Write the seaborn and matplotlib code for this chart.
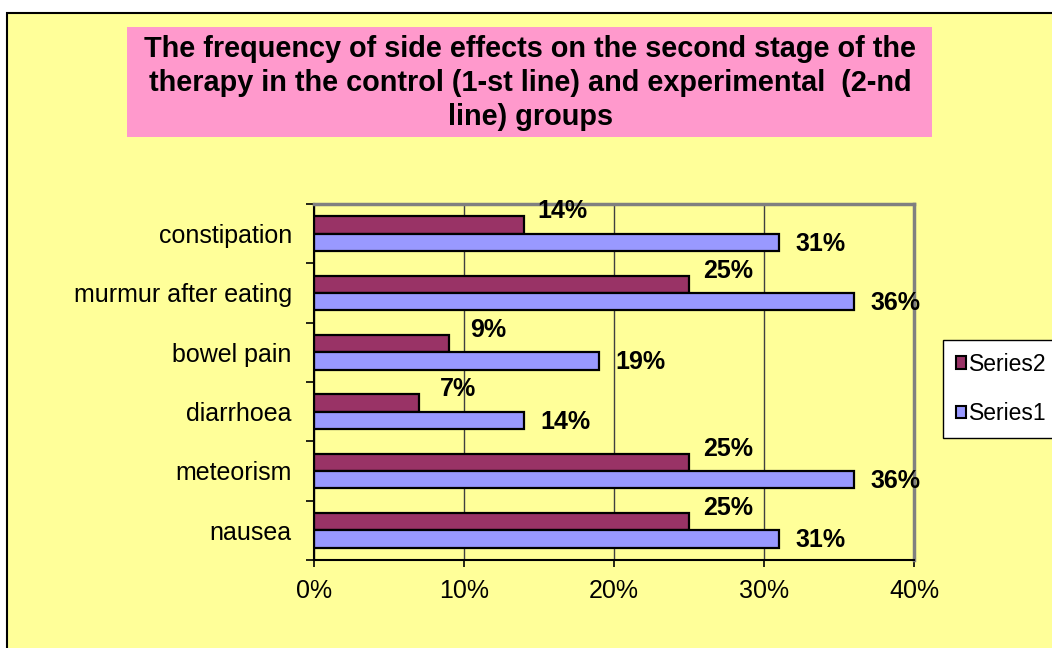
import pandas as pd
import matplotlib.pyplot as plt
import seaborn as sns
from matplotlib.patches import Rectangle, Patch
from matplotlib.ticker import FixedLocator

# Side effect categories (top to bottom) and values in %
categories = ["constipation", "murmur after eating", "bowel pain",
              "diarrhoea", "meteorism", "nausea"]
series1 = [31, 36, 19, 14, 36, 31]
series2 = [14, 25, 9, 7, 25, 25]
series_names = ["Series2", "Series1"]
x_ticks = [0, 10, 20, 30, 40]

df = pd.DataFrame({
    "Effect": categories * 2,
    "Value": series2 + series1,
    "Series": ["Series2"] * len(categories) + ["Series1"] * len(categories),
})

bg = "#FFFF99"
colors = {"Series2": "#993366", "Series1": "#9999FF"}

sns.set_theme(style="white")
plt.rcParams["font.family"] = ["Liberation Sans", "DejaVu Sans"]
plt.rcParams["text.color"] = "black"
plt.rcParams["xtick.color"] = "black"
plt.rcParams["ytick.color"] = "black"

fig = plt.figure(figsize=(10.52, 6.48), dpi=100)
fig.patch.set_facecolor("white")

# outer yellow chart area with black border (cut off at right/bottom)
fig.patches.append(Rectangle((7 / 1052, -0.1), 1.2, 1 - 13 / 648 + 0.1,
                             transform=fig.transFigure, facecolor=bg,
                             edgecolor="black", linewidth=1.5, zorder=0))

# title box
fig.patches.append(Rectangle((127 / 1052, 1 - 137 / 648), 805 / 1052, 110 / 648,
                             transform=fig.transFigure, facecolor="#FF99CC",
                             edgecolor="none", zorder=1))
fig.text(530 / 1052, 1 - 83 / 648,
         "The frequency of side effects on the second stage of the\n"
         "therapy in the control (1-st line) and experimental  (2-nd\n"
         "line) groups",
         ha="center", va="center", fontsize=20.8, fontweight="bold",
         linespacing=1.26, zorder=2)

ax = fig.add_axes([314 / 1052, 1 - 560 / 648, 600 / 1052, 356 / 648])
ax.set_zorder(3)
ax.set_facecolor(bg)

sns.barplot(data=df, y="Effect", x="Value", hue="Series", hue_order=series_names,
            order=categories, palette=colors, orient="h", width=0.58,
            edgecolor="black", linewidth=1.6, saturation=1, ax=ax, legend=False)

ax.set_xlim(0, 40)
ax.set_ylim(len(categories) - 0.5, -0.5)
ax.set_xticks(x_ticks)
ax.set_xticklabels([f"{t}%" for t in x_ticks])
ax.set_xlabel("")
ax.set_ylabel("")
ax.xaxis.grid(True, color="#404040", linewidth=1)
ax.set_axisbelow(True)

ax.tick_params(axis="x", length=5, width=1.2, color="black", pad=9,
               labelsize=18, bottom=True)
ax.tick_params(axis="y", which="major", length=0, pad=16, labelsize=18)
ax.yaxis.set_minor_locator(FixedLocator([i - 0.5 for i in range(len(categories) + 1)]))
ax.tick_params(axis="y", which="minor", length=6, width=1.2, color="black", left=True)

for side in ["left", "bottom"]:
    ax.spines[side].set_color("black")
    ax.spines[side].set_linewidth(1.5)
for side in ["top", "right"]:
    ax.spines[side].set_color("#808080")
    ax.spines[side].set_linewidth(2.5)

# data labels
offsets = {"Series2": (28, 10), "Series1": (30, -1)}
for name, cont in zip(series_names, ax.containers):
    dx, dy = offsets[name]
    for bar in cont:
        w = bar.get_width()
        yc = bar.get_y() + bar.get_height() / 2
        ax.annotate(f"{w:g}%", (w, yc), xytext=(dx, dy), textcoords="offset points",
                    ha="center", va="center", fontsize=18, fontweight="bold",
                    annotation_clip=False)

handles = [Patch(facecolor=colors[n], edgecolor="black", linewidth=1.5, label=n)
           for n in series_names]
leg = fig.legend(handles=handles, loc="upper left",
                 bbox_to_anchor=(943 / 1052, 1 - 340 / 648), fontsize=16.5,
                 frameon=True, fancybox=False, handlelength=0.45, handleheight=0.45,
                 handletextpad=0.15, labelspacing=1.15, borderpad=0.55,
                 borderaxespad=0)
leg.get_frame().set_edgecolor("black")
leg.get_frame().set_linewidth(1)
leg.get_frame().set_facecolor("white")
leg.get_frame().set_alpha(1)

fig.savefig("out.png", dpi=100, facecolor=fig.get_facecolor())
